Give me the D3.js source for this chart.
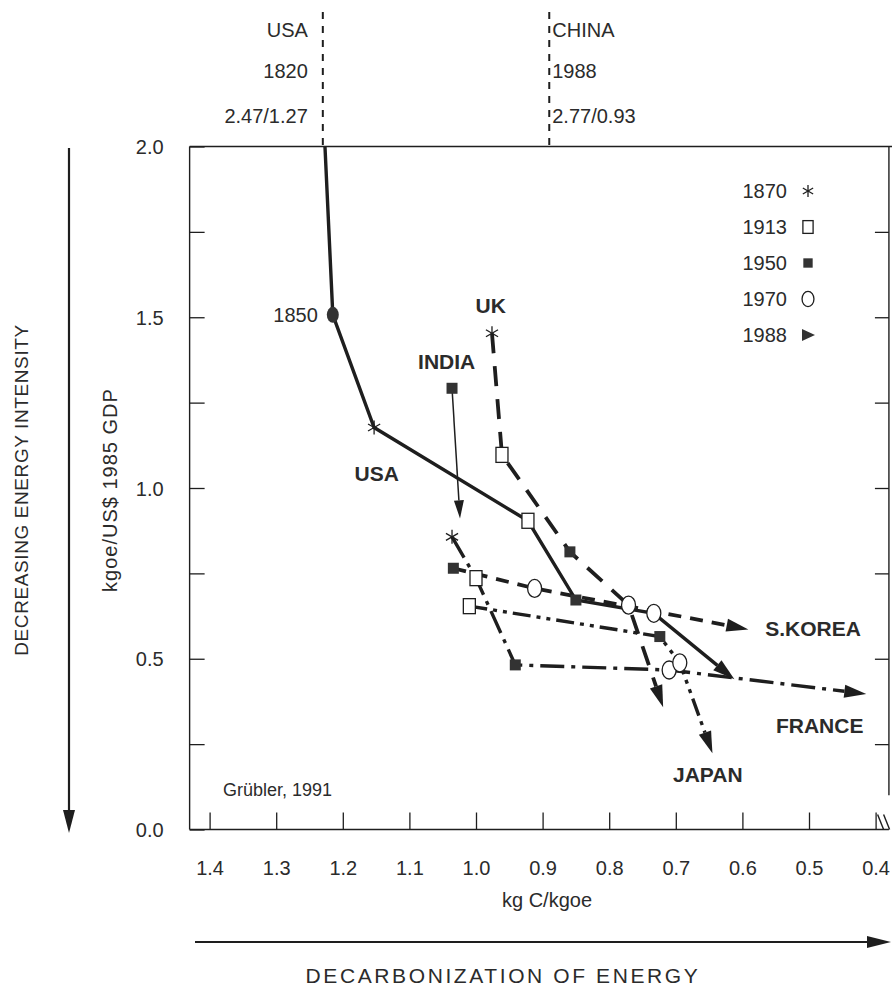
<!DOCTYPE html>
<html>
<head>
<meta charset="utf-8">
<script src="https://cdnjs.cloudflare.com/ajax/libs/d3/7.8.5/d3.min.js"></script>
<style>
  body { margin: 0; background: #fff; }
  svg text { font-family: "Liberation Sans", Arial, Helvetica, sans-serif; fill: #2b2b2b; }
</style>
</head>
<body>
<svg id="chart" width="892" height="993"></svg>
<script>
// each row: [year, kg C/kgoe, kgoe/US$ 1985 GDP]
var usa    = [[1820, 1.238, 2.47], [1850, 1.215, 1.507], [1870, 1.153, 1.177], [1913, 0.922, 0.904], [1950, 0.850, 0.672], [1970, 0.733, 0.633], [1988, 0.612, 0.440]];
var uk     = [[1870, 0.976, 1.453], [1913, 0.961, 1.097], [1950, 0.859, 0.813], [1970, 0.771, 0.657], [1988, 0.719, 0.358]];
var india  = [[1950, 1.036, 1.292], [1988, 1.024, 0.911]];
var france = [[1870, 1.036, 0.857], [1913, 1.000, 0.736], [1950, 0.941, 0.482], [1970, 0.710, 0.467], [1988, 0.414, 0.397]];
var japan  = [[1913, 1.010, 0.654], [1950, 0.724, 0.565], [1970, 0.694, 0.488], [1988, 0.645, 0.223]];
var korea  = [[1950, 1.034, 0.765], [1970, 0.912, 0.706], [1988, 0.591, 0.586]];

var legendYears = [1870, 1913, 1950, 1970, 1988];
var xTicks = [1.4, 1.3, 1.2, 1.1, 1.0, 0.9, 0.8, 0.7, 0.6, 0.5, 0.4];
var yTicks = [0, 0.25, 0.5, 0.75, 1.0, 1.25, 1.5, 1.75, 2.0];
var rightTicks = [0.25, 0.5, 0.75, 1.0, 1.25, 1.5, 1.75];

// points that are off the top of the chart
var offNames  = ["USA", "CHINA"];
var offYears  = ["1820", "1988"];
var offValues = ["2.47/1.27", "2.77/0.93"];
var offAt     = [1.23, 0.89];

// country labels, in data units
var labelNames = ["USA", "UK", "INDIA", "S.KOREA", "FRANCE", "JAPAN"];
var labelAt    = [[1.149, 1.043], [0.978, 1.536], [1.044, 1.37], [0.494, 0.59], [0.484, 0.306], [0.652, 0.16]];

var ink = "#1e1e1e";
var svg = d3.select("#chart");

var x = d3.scaleLinear().domain([1.4, 0.4]).range([209.6, 875.6]);
var y = d3.scaleLinear().domain([0, 2]).range([829.5, 146.5]);
var x0 = x(1.43), x1 = x(0.38), yTop = y(2), yBot = y(0);

/* FRAME */
var frame = svg.append("g").attr("stroke", ink).attr("stroke-width", 1.4).attr("fill", "none");
frame.append("line").attr("x1", x0).attr("x2", x0).attr("y1", yTop).attr("y2", yBot);
frame.append("line").attr("x1", x0).attr("x2", 892).attr("y1", yTop).attr("y2", yTop);
frame.append("line").attr("x1", x0).attr("x2", x1).attr("y1", yBot).attr("y2", yBot);
frame.append("line").attr("x1", x1).attr("x2", x1).attr("y1", yTop).attr("y2", y(0.1));
// axis break
frame.append("line").attr("x1", x(0.4) + 2).attr("y1", yBot - 15).attr("x2", x(0.4) + 8).attr("y2", yBot);
frame.append("line").attr("x1", x(0.4) + 8).attr("y1", yBot - 15).attr("x2", x(0.4) + 14).attr("y2", yBot);

/* AXES */
var gx = svg.append("g").attr("transform", "translate(0," + yBot + ")")
  .call(d3.axisBottom(x).tickValues(xTicks).tickSize(-17).tickPadding(31).tickFormat(d3.format(".1f")));
var gy = svg.append("g").attr("transform", "translate(" + x0 + ",0)")
  .call(d3.axisLeft(y).tickValues(yTicks).tickSize(-15).tickPadding(26)
    .tickFormat(function (d) { return Math.abs(d * 2 - Math.round(d * 2)) < 1e-9 ? d3.format(".1f")(d) : ""; }));
var gr = svg.append("g").attr("transform", "translate(" + x1 + ",0)")
  .call(d3.axisRight(y).tickValues(rightTicks).tickSize(-14).tickFormat(""));
[gx, gy, gr].forEach(function (g) {
  g.select(".domain").remove();
  g.selectAll(".tick line").attr("stroke", ink).attr("stroke-width", 1.3);
  g.selectAll(".tick text").attr("font-size", 20).attr("fill", "#2b2b2b")
    .style("font-family", '"Liberation Sans", Arial, sans-serif');
});
gx.selectAll(".tick text").attr("y", 31).attr("dy", "0.71em");
gy.selectAll(".tick text").attr("x", -26).attr("dy", "0.36em");

/* AXIS TITLES AND ARROWS */
svg.append("text").attr("x", 547).attr("y", 907).attr("text-anchor", "middle")
  .attr("font-size", 20).text("kg C/kgoe");
svg.append("text").attr("transform", "translate(117,490) rotate(-90)").attr("text-anchor", "middle")
  .attr("font-size", 20).attr("letter-spacing", 1).text("kgoe/US$ 1985 GDP");
svg.append("text").attr("transform", "translate(28,490) rotate(-90)").attr("text-anchor", "middle")
  .attr("font-size", 19).attr("letter-spacing", 0.6).text("DECREASING ENERGY INTENSITY");
svg.append("text").attr("x", 503).attr("y", 983).attr("text-anchor", "middle")
  .attr("font-size", 21).attr("letter-spacing", 2.6).text("DECARBONIZATION OF ENERGY");

svg.append("line").attr("x1", 69).attr("x2", 69).attr("y1", 148).attr("y2", 812)
  .attr("stroke", ink).attr("stroke-width", 2.2);
svg.append("path").attr("d", "M63,810 L75,810 L69,833 Z").attr("fill", ink);
svg.append("line").attr("x1", 195).attr("x2", 870).attr("y1", 942).attr("y2", 942)
  .attr("stroke", ink).attr("stroke-width", 2.2);
svg.append("path").attr("d", "M867,936 L867,948 L891,942 Z").attr("fill", ink);

svg.append("text").attr("x", 223).attr("y", 796).attr("font-size", 18).text("Grübler, 1991");

/* OFF-SCALE MARKERS ON TOP */
offNames.forEach(function (n, i) {
  var px = x(offAt[i]);
  var left = i === 0;
  svg.append("line").attr("x1", px).attr("x2", px).attr("y1", 12).attr("y2", yTop)
    .attr("stroke", ink).attr("stroke-width", 2).attr("stroke-dasharray", "7,7");
  var tx = left ? px - 15 : px + 3;
  var anchor = left ? "end" : "start";
  [n, offYears[i], offValues[i]].forEach(function (t, k) {
    svg.append("text").attr("x", tx).attr("y", [37, 78, 123][k]).attr("text-anchor", anchor)
      .attr("font-size", 20).text(t);
  });
});

/* SERIES */
svg.append("clipPath").attr("id", "plot").append("rect")
  .attr("x", x0).attr("y", yTop).attr("width", x1 - x0).attr("height", yBot - yTop);

var series = [
  { data: usa,    dash: null,               width: 3.4 },
  { data: uk,     dash: "20,13",            width: 3.8 },
  { data: india,  dash: null,               width: 1.5 },
  { data: france, dash: "24,7,4,7",         width: 3.4 },
  { data: japan,  dash: "18,6,4,6,4,6",     width: 3.4 },
  { data: korea,  dash: "13,9",             width: 3.8 }
];

var plot = svg.append("g").attr("clip-path", "url(#plot)");

function arrowHead(g, from, tip, len, hw) {
  var dx = tip[0] - from[0], dy = tip[1] - from[1];
  var L = Math.sqrt(dx * dx + dy * dy), ux = dx / L, uy = dy / L;
  var bx = tip[0] - ux * len, by = tip[1] - uy * len;
  g.append("path")
    .attr("d", "M" + tip[0] + "," + tip[1] + " L" + (bx - uy * hw) + "," + (by + ux * hw) +
      " L" + (bx + uy * hw) + "," + (by - ux * hw) + " Z")
    .attr("fill", ink);
  return [bx, by];
}

series.forEach(function (s) {
  var pts = s.data;
  var n = pts.length;
  var last = pts[n - 1], prev = pts[n - 2];
  var tip = [x(last[1]), y(last[2])];
  var from = [x(prev[1]), y(prev[2])];
  var big = s.width > 2;
  var base = arrowHead(svg, from, tip, big ? 22 : 18, big ? 6.5 : 5);
  var coords = pts.slice(0, n - 1).map(function (d) { return [x(d[1]), y(d[2])]; });
  coords.push(base);
  plot.append("path").attr("d", d3.line()(coords)).attr("fill", "none")
    .attr("stroke", ink).attr("stroke-width", s.width)
    .attr("stroke-dasharray", s.dash);
});

/* MARKERS */
function marker(g, year, px, py, k) {
  k = k || 1;
  if (year === 1850) {
    g.append("ellipse").attr("cx", px).attr("cy", py).attr("rx", 6).attr("ry", 8).attr("fill", "#333");
  } else if (year === 1870) {
    var r = 7 * k;
    var a = g.append("g").attr("stroke", ink).attr("stroke-width", 1.3);
    [90, 30, -30].forEach(function (deg) {
      var t = deg * Math.PI / 180;
      a.append("line").attr("x1", px - r * Math.cos(t)).attr("y1", py - r * Math.sin(t))
        .attr("x2", px + r * Math.cos(t)).attr("y2", py + r * Math.sin(t));
    });
  } else if (year === 1913) {
    g.append("rect").attr("x", px - 6 * k).attr("y", py - 7.5 * k).attr("width", 12 * k).attr("height", 15 * k)
      .attr("fill", "#fff").attr("stroke", ink).attr("stroke-width", 1.3);
  } else if (year === 1950) {
    g.append("rect").attr("x", px - 5.5 * k).attr("y", py - 5.5 * k).attr("width", 11 * k).attr("height", 11 * k)
      .attr("fill", "#333");
  } else if (year === 1970) {
    g.append("ellipse").attr("cx", px).attr("cy", py).attr("rx", 7 * k).attr("ry", 9 * k)
      .attr("fill", "#fff").attr("stroke", ink).attr("stroke-width", 1.3);
  } else if (year === 1988) {
    g.append("path").attr("d", "M" + (px - 6) + "," + (py - 6) + " L" + (px + 7) + "," + py + " L" + (px - 6) + "," + (py + 6) + " Z")
      .attr("fill", "#333");
  }
}

var marks = svg.append("g");
series.forEach(function (s) {
  s.data.forEach(function (d) {
    if (d[0] === 1820 || d[0] === 1988) return;
    marker(marks, d[0], x(d[1]), y(d[2]));
  });
});

svg.append("text").attr("x", x(usa[1][1]) - 15).attr("y", y(usa[1][2])).attr("dy", "0.36em")
  .attr("text-anchor", "end").attr("font-size", 20).text(usa[1][0]);

labelNames.forEach(function (n, i) {
  svg.append("text").attr("x", x(labelAt[i][0])).attr("y", y(labelAt[i][1])).attr("dy", "0.36em")
    .attr("text-anchor", "middle").attr("font-size", 21).attr("font-weight", "bold").attr("fill", "#222")
    .text(n);
});

/* LEGEND */
legendYears.forEach(function (yr, i) {
  var ly = 191 + i * 36;
  svg.append("text").attr("x", 787).attr("y", ly).attr("dy", "0.36em").attr("text-anchor", "end")
    .attr("font-size", 20).text(yr);
  marker(svg, yr, 808, ly, 0.85);
});
</script>
</body>
</html>
